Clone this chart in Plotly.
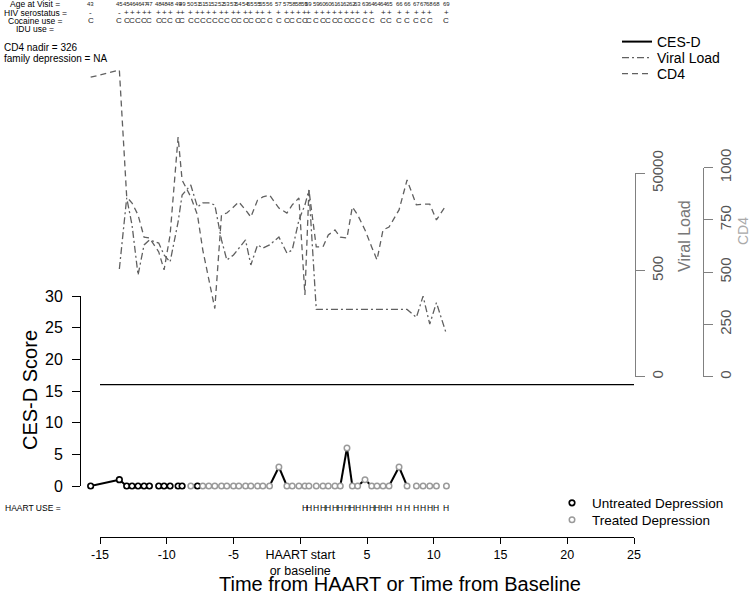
import plotly.graph_objects as go

# ---------------- data ----------------
TIME = [-15.7, -13.55, -13.0, -12.6, -12.15, -11.7, -11.3, -10.6, -10.2, -9.75,
        -9.15, -8.85, -8.2, -7.7, -7.3, -6.85, -6.4, -5.9, -5.5, -5.0,
        -4.6, -4.1, -3.7, -3.2, -2.8, -2.3, -1.6, -1.0, -0.6, -0.1,
        0.35, 0.65, 1.2, 1.7, 2.1, 2.6, 3.0, 3.5, 3.9, 4.3,
        4.85, 5.35, 5.75, 6.2, 6.65, 7.4, 8.0, 8.7, 9.2, 9.7,
        10.2, 10.95]
AGE = [43, 45, 45, 46, 46, 47, 47, 48, 48, 48,
       49, 49, 50, 51, 51, 51, 52, 52, 53, 53,
       54, 54, 55, 55, 55, 56, 57, 57, 58, 58,
       59, 59, 59, 60, 60, 61, 61, 62, 62, 63,
       63, 64, 64, 64, 65, 66, 66, 67, 67, 68,
       68, 69]
HIV = ["-", "-", "+", "+", "+", "+", "+", "+", "+", "+",
       "+", "+", "+", "+", "+", "+", "+", "+", "+", "+",
       "+", "+", "+", "+", "+", "+", "+", "+", "+", "+",
       "+", "+", "+", "+", "+", "+", "+", "+", "+", "+",
       "+", "+", "", "+", "+", "+", "+", "+", "+", "+",
       "", "+"]
COCAINE = ["C", "C", "C", "C", "C", "C", "C", "C", "C", "C",
           "C", "C", "C", "C", "C", "C", "C", "C", "C", "C",
           "C", "C", "C", "C", "C", "C", "C", "C", "C", "C",
           "C", "C", "C", "C", "C", "C", "C", "C", "C", "C",
           "C", "C", "", "C", "C", "C", "C", "C", "C", "C",
           "", "C"]
CESD = [0, 1, 0, 0, 0, 0, 0, 0, 0, 0,
        0, 0, 0, 0, 0, 0, 0, 0, 0, 0,
        0, 0, 0, 0, 0, 0, 3, 0, 0, 0,
        0, 0, 0, 0, 0, 0, 0, 6, 0, 0,
        1, 0, 0, 0, 0, 3, 0, 0, 0, 0,
        0, 0]
TREATED = [0, 0, 0, 0, 0, 0, 0, 0, 0, 0,
           0, 0, 1, 0, 1, 1, 1, 1, 1, 1,
           1, 1, 1, 1, 1, 1, 1, 1, 1, 1,
           1, 1, 1, 1, 1, 1, 1, 1, 1, 1,
           1, 1, 1, 1, 1, 1, 1, 1, 1, 1,
           1, 1]
HAART = [0] * 30 + [1] * 22
VL = [None, 542, 15600, 4340, 408, 1690, 2140, 1850, 1050, 755,
      5000, 17900, 28700, 10200, 12300, 12300, 11200, 2140, 830, 1050,
      1460, 2140, 655, 1690, 1460, 1690, 2460, 1150, 1330, 5500,
      11200, 22700, 80, 80, 80, 80, 80, 80, 80, 80,
      80, 80, 80, 80, 80, 80, 80, 55, 150, 40,
      110, 25]
CD4 = [1433, 1467, 860, 831, 774, 668, 664, 597, 511, 678,
       1147, 941, 860, 774, 606, 463, 326, 774, 783, 812,
       836, 798, 764, 845, 860, 869, 807, 783, 822, 855,
       391, 893, 621, 621, 678, 702, 668, 664, 812, 774,
       702, 621, 559, 702, 716, 798, 941, 822, 826, 826,
       750, 822]
CESD_CUTOFF = 16
X_TICKS = [-15, -10, -5, 0, 5, 10, 15, 20, 25]
X_TICK_LABELS = ["-15", "-10", "-5", "HAART start<br>or baseline", "5", "10", "15", "20", "25"]
CESD_TICKS = [0, 5, 10, 15, 20, 25, 30]
VL_TICK_VALUES = [3.33, 500, 50000]
VL_TICK_LABELS = ["0", "500", "50000"]
CD4_TICKS = [0, 250, 500, 750, 1000]
CD4_NADIR = 326
FAMILY_DEPRESSION = "NA"

# ---------------- layout helpers ----------------
W, H = 750, 600
FONT = "Liberation Sans, Arial, sans-serif"


def fx(p):
    return p / W


def fy(p):
    return 1 - p / H


X_PX0, X_PX1 = 100, 634
scale = (X_PX1 - X_PX0) / (X_TICKS[-1] - X_TICKS[0])
x_full = [X_TICKS[0] - X_PX0 / scale, X_TICKS[-1] + (W - X_PX1) / scale]

VL_LOG0, VL_LOG1 = 0.522, 4.699
VL_PX0, VL_PX1 = 376.7, 173.3
CD4_PX0, CD4_PX1 = 376.7, 167.7
cd4_per_px = (CD4_TICKS[-1] - CD4_TICKS[0]) / (CD4_PX0 - CD4_PX1)
cd4_full = [-(H - CD4_PX0) * cd4_per_px, CD4_PX0 * cd4_per_px]

fig = go.Figure()

# CES-D connecting lines (only where a segment is visible)
seg_x, seg_y = [], []
for i in range(len(TIME) - 1):
    if CESD[i] > 0 or CESD[i + 1] > 0:
        seg_x += [TIME[i], TIME[i + 1], None]
        seg_y += [CESD[i], CESD[i + 1], None]
fig.add_trace(go.Scatter(x=seg_x, y=seg_y, mode="lines", name="CES-D",
                         line=dict(color="black", width=2),
                         xaxis="x", yaxis="y", legend="legend", hoverinfo="skip"))
fig.add_trace(go.Scatter(x=[X_TICKS[0], X_TICKS[-1]], y=[CESD_CUTOFF, CESD_CUTOFF],
                         mode="lines", line=dict(color="black", width=1.3),
                         showlegend=False, xaxis="x", yaxis="y", hoverinfo="skip"))
fig.add_trace(go.Scatter(x=TIME, y=VL, mode="lines", name="Viral Load",
                         line=dict(color="#606060", width=1.3, dash="7px,3px,2px,3px"),
                         xaxis="x", yaxis="y2", legend="legend3"))
fig.add_trace(go.Scatter(x=TIME, y=CD4, mode="lines", name="CD4",
                         line=dict(color="#606060", width=1.3, dash="6px,4px"),
                         xaxis="x", yaxis="y3", legend="legend4"))

ux = [t for t, tr in zip(TIME, TREATED) if not tr]
uy = [c for c, tr in zip(CESD, TREATED) if not tr]
tx = [t for t, tr in zip(TIME, TREATED) if tr]
ty = [c for c, tr in zip(CESD, TREATED) if tr]
fig.add_trace(go.Scatter(x=ux, y=uy, mode="markers", name="Untreated Depression",
                         marker=dict(symbol="circle", size=5.5, color="white",
                                     line=dict(color="black", width=1.7)),
                         cliponaxis=False, xaxis="x", yaxis="y", legend="legend2"))
fig.add_trace(go.Scatter(x=tx, y=ty, mode="markers", name="Treated Depression",
                         marker=dict(symbol="circle", size=5.5, color="white",
                                     line=dict(color="#9a9a9a", width=1.5)),
                         cliponaxis=False, xaxis="x", yaxis="y", legend="legend5"))

# dummy traces so the decorative axes get drawn
fig.add_trace(go.Scatter(x=[], y=[], xaxis="x2", yaxis="y", showlegend=False))
fig.add_trace(go.Scatter(x=[], y=[], xaxis="x", yaxis="y4", showlegend=False))

ann = []
# header rows
for lab, row in [("Age at Visit =", 4), ("HIV serostatus =", 12.7),
                 ("Cocaine use =", 20.7), ("IDU use =", 29)]:
    ann.append(dict(text=lab, x=fx(35), y=fy(row), xref="paper", yref="paper",
                    xanchor="center", yanchor="middle", showarrow=False,
                    font=dict(size=8.5, color="black", family=FONT)))
for t, a, h, c in zip(TIME, AGE, HIV, COCAINE):
    ann.append(dict(text=str(a), x=t, y=fy(4), xref="x", yref="paper",
                    xanchor="center", yanchor="middle", showarrow=False,
                    font=dict(size=6, color="#222", family=FONT)))
    if h:
        ann.append(dict(text=h, x=t, y=fy(12.7), xref="x", yref="paper",
                        xanchor="center", yanchor="middle", showarrow=False,
                        font=dict(size=8, color="#222", family=FONT)))
    if c:
        ann.append(dict(text=c, x=t, y=fy(20.7), xref="x", yref="paper",
                        xanchor="center", yanchor="middle", showarrow=False,
                        font=dict(size=8, color="#222", family=FONT)))
for t, hh in zip(TIME, HAART):
    if hh:
        ann.append(dict(text="H", x=t, y=fy(508), xref="x", yref="paper",
                        xanchor="center", yanchor="middle", showarrow=False,
                        font=dict(size=8.5, color="black", family=FONT)))
ann.append(dict(text="HAART USE =", x=fx(33), y=fy(508), xref="paper", yref="paper",
                xanchor="center", yanchor="middle", showarrow=False,
                font=dict(size=8.5, color="black", family=FONT)))
ann.append(dict(text=f"CD4 nadir = {CD4_NADIR}", x=fx(2), y=fy(48), xref="paper", yref="paper",
                xanchor="left", yanchor="middle", showarrow=False,
                font=dict(size=10, color="black", family=FONT)))
ann.append(dict(text=f"family depression = {FAMILY_DEPRESSION}", x=fx(2), y=fy(58),
                xref="paper", yref="paper", xanchor="left", yanchor="middle", showarrow=False,
                font=dict(size=10, color="black", family=FONT)))
# axis titles
ann.append(dict(text="CES-D Score", x=fx(30), y=fy(390), xref="paper", yref="paper",
                textangle=-90, xanchor="center", yanchor="middle", showarrow=False,
                font=dict(size=20, color="black", family=FONT)))
ann.append(dict(text="Time from HAART or Time from Baseline", x=fx(400), y=fy(584),
                xref="paper", yref="paper", xanchor="center", yanchor="middle",
                showarrow=False, font=dict(size=20, color="black", family=FONT)))
ann.append(dict(text="Viral Load", x=fx(684), y=fy(236), xref="paper", yref="paper",
                textangle=-90, xanchor="center", yanchor="middle", showarrow=False,
                font=dict(size=16, color="#777", family=FONT)))
ann.append(dict(text="CD4", x=fx(743), y=fy(231), xref="paper", yref="paper",
                textangle=-90, xanchor="center", yanchor="middle", showarrow=False,
                font=dict(size=14, color="#aaa", family=FONT)))

common = dict(showgrid=False, zeroline=False, fixedrange=True, automargin=False)


def leg(xp, yp, size):
    return dict(x=fx(xp), y=fy(yp), xanchor="left", yanchor="middle",
                bgcolor="rgba(0,0,0,0)", borderwidth=0,
                font=dict(size=size, color="black", family=FONT))


fig.update_layout(
    width=W, height=H,
    margin=dict(l=0, r=0, t=0, b=0, pad=0, autoexpand=False),
    paper_bgcolor="white", plot_bgcolor="rgba(0,0,0,0)",
    font=dict(family=FONT, color="black"),
    xaxis=dict(domain=[0, 1], range=x_full, visible=False, **common),
    xaxis2=dict(domain=[fx(X_PX0), fx(X_PX1)], range=[X_TICKS[0], X_TICKS[-1]],
                anchor="free", position=fy(537), side="bottom",
                showline=True, linecolor="black", linewidth=1,
                ticks="outside", ticklen=6, tickwidth=1, tickcolor="black",
                tickvals=X_TICKS, ticktext=X_TICK_LABELS,
                tickfont=dict(size=12.5, color="black", family=FONT), **common),
    yaxis=dict(domain=[fy(486), fy(296)], range=[CESD_TICKS[0], CESD_TICKS[-1]],
               anchor="free", position=fx(80), side="left",
               showline=True, linecolor="black", linewidth=1,
               ticks="outside", ticklen=8, tickwidth=1, tickcolor="black",
               ticklabelstandoff=6,
               tickvals=CESD_TICKS, tickfont=dict(size=16, color="black", family=FONT),
               **common),
    yaxis2=dict(type="log", domain=[fy(VL_PX0), fy(VL_PX1)], range=[VL_LOG0, VL_LOG1],
                anchor="free", position=fx(635), side="right",
                showline=True, linecolor="#808080", linewidth=1,
                ticks="outside", ticklen=9, tickwidth=1, tickcolor="#808080",
                ticklabelstandoff=0,
                tickvals=VL_TICK_VALUES, ticktext=VL_TICK_LABELS, tickangle=-90,
                tickfont=dict(size=15, color="#555", family=FONT), **common),
    yaxis3=dict(domain=[0, 1], range=cd4_full, visible=False, **common),
    yaxis4=dict(domain=[fy(CD4_PX0), fy(CD4_PX1)], range=[CD4_TICKS[0], CD4_TICKS[-1]],
                anchor="free", position=fx(702.7), side="right",
                showline=True, linecolor="#808080", linewidth=1,
                ticks="outside", ticklen=9, tickwidth=1, tickcolor="#808080",
                ticklabelstandoff=0,
                tickvals=CD4_TICKS, tickangle=-90,
                tickfont=dict(size=15, color="#555", family=FONT), **common),
    legend=leg(617, 42, 14),
    legend3=leg(617, 58, 14),
    legend4=leg(617, 74, 14),
    legend2=leg(552, 503, 13.5),
    legend5=leg(552, 520, 13.5),
    annotations=ann,
    showlegend=True,
)

fig.write_html("out.html", config={"displayModeBar": False},
               post_script="document.body.style.margin='0';")
